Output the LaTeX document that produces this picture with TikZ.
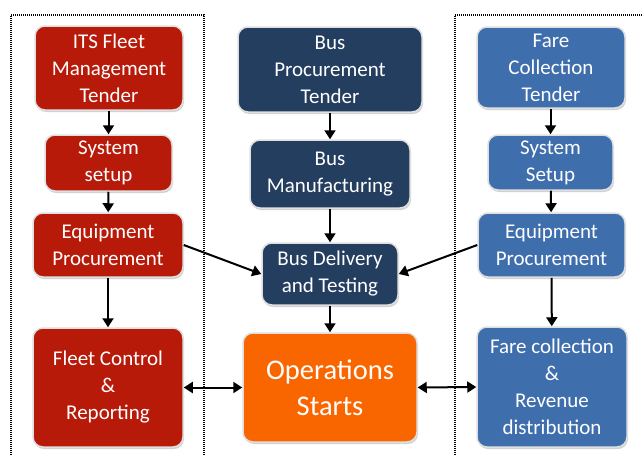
\documentclass[tikz,border=0pt]{standalone}
\usepackage{fontspec}
\setmainfont{Carlito}
\usetikzlibrary{arrows.meta,shadows}
\definecolor{cred}{HTML}{B81A0A}
\definecolor{cdark}{HTML}{243E5F}
\definecolor{clight}{HTML}{3F6EAD}
\definecolor{corange}{HTML}{F96600}
\begin{document}
\begin{tikzpicture}[x=1pt,y=-1pt,
  box/.style={rounded corners=10pt,draw=gray!25,line width=1.5pt,text=white,align=center,
    inner sep=2pt,font=\fontsize{21}{27}\selectfont,
    drop shadow={shadow xshift=1pt,shadow yshift=-2pt,opacity=0.35}},
  redbox/.style={box,fill=cred},
  darkbox/.style={box,fill=cdark},
  lightbox/.style={box,fill=clight},
  opbox/.style={box,fill=corange,font=\fontsize{28.5}{36}\selectfont},
  arr/.style={line width=2pt,-{Triangle[length=9pt,width=11pt]}},
  darr/.style={line width=2pt,{Triangle[length=9pt,width=11pt]}-{Triangle[length=9pt,width=11pt]}},
  frame/.style={line width=1.6pt,dash pattern=on 1pt off 1pt}]
\useasboundingbox (0,0) rectangle (642,455);
\fill[white] (0,0) rectangle (642,455);
% frames
\draw[frame] (11,455) -- (11,15) -- (204,15) -- (204,455);
\draw[frame] (455,455) -- (455,15) -- (642,15);
% red column
\node[redbox,minimum width=148pt,minimum height=84pt] (r1) at (109,68) {ITS Fleet\\Management\\Tender};
\node[redbox,minimum width=127pt,minimum height=56pt] (r2) at (108.5,163) {System\\setup};
\node[redbox,minimum width=150pt,minimum height=64pt] (r3) at (108,245) {Equipment\\Procurement};
\node[redbox,minimum width=150pt,minimum height=119pt] (r4) at (108,387.5) {Fleet Control\\\&\\Reporting};
% dark column
\node[darkbox,minimum width=184pt,minimum height=85pt] (b1) at (330,69.5) {Bus\\Procurement\\Tender};
\node[darkbox,minimum width=160pt,minimum height=68pt] (b2) at (330,174) {Bus\\Manufacturing};
\node[darkbox,minimum width=136pt,minimum height=62pt] (b3) at (330,274) {Bus Delivery\\and Testing};
\node[opbox,minimum width=174pt,minimum height=109pt] (b4) at (330,387.5) {Operations\\Starts};
% light column
\node[lightbox,minimum width=148pt,minimum height=81pt] (l1) at (551,67.5) {Fare\\Collection\\Tender};
\node[lightbox,minimum width=125pt,minimum height=55pt] (l2) at (550.5,162.5) {System\\Setup};
\node[lightbox,minimum width=147pt,minimum height=64pt] (l3) at (551.5,245) {Equipment\\Procurement};
\node[lightbox,minimum width=150pt,minimum height=120pt] (l4) at (552,387) {Fare collection\\\&\\Revenue\\distribution};
% arrows
\draw[arr] (r1.south -| r2.north) -- (r2.north);
\draw[arr] (r2) -- (r3);
\draw[arr] (r3) -- (r4);
\draw[arr] (b1) -- (b2);
\draw[arr] (b2) -- (b3);
\draw[arr] (b3) -- (b4);
\draw[arr] (l1.south -| l2.north) -- (l2.north);
\draw[arr] (l2) -- (l3);
\draw[arr] (l3) -- (l4);
\draw[arr] (r3.east) -- (b3.west);
\draw[arr] (l3.west) -- (b3.east);
\draw[darr] (r4.east) -- (b4.west);
\draw[darr] (b4.east) -- (l4.west);
\end{tikzpicture}
\end{document}
